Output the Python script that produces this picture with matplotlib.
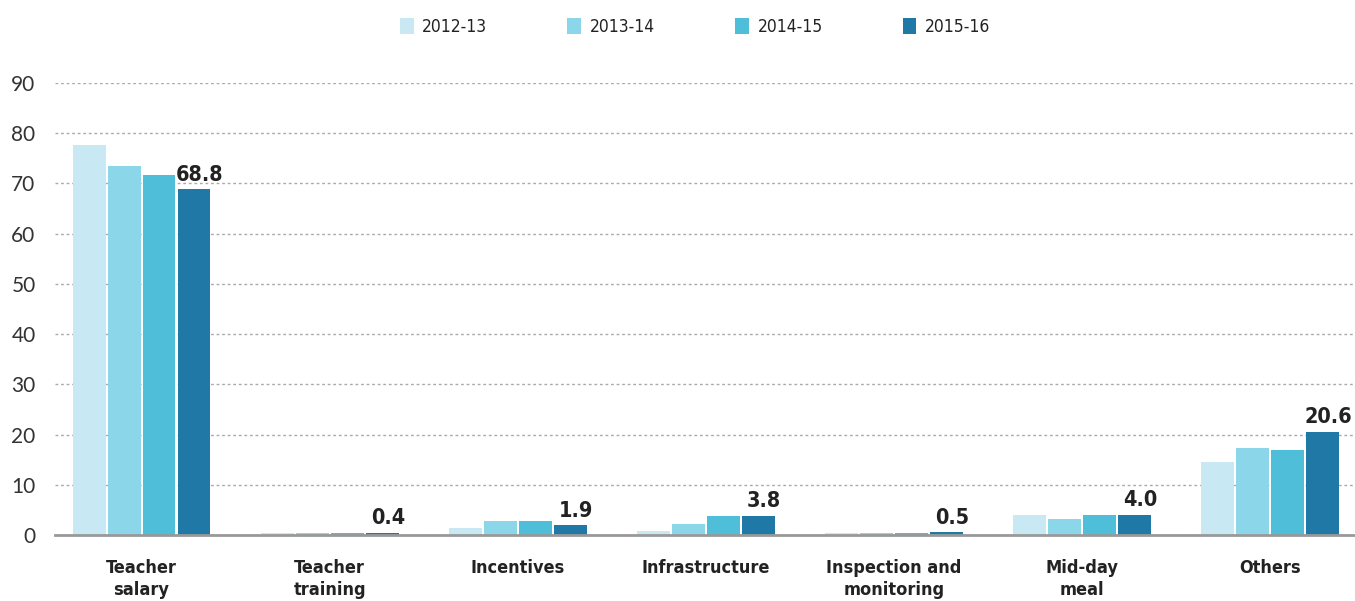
import numpy as np
import matplotlib
matplotlib.use("Agg")
import matplotlib.pyplot as plt
from matplotlib.patches import Patch

plt.rcParams['font.family'] = ['DejaVu Sans']
plt.rcParams['font.stretch'] = 'condensed'

categories = ["Teacher\nsalary", "Teacher\ntraining", "Incentives", "Infrastructure",
              "Inspection and\nmonitoring", "Mid-day\nmeal", "Others"]
years = ["2012-13", "2013-14", "2014-15", "2015-16"]
v_2012 = [77.6, 0.3, 1.3, 0.7, 0.3, 4.0, 14.5]
v_2013 = [73.4, 0.35, 2.8, 2.2, 0.4, 3.2, 17.4]
v_2014 = [71.6, 0.35, 2.8, 3.7, 0.4, 4.0, 17.0]
v_2015 = [68.8, 0.4, 1.9, 3.8, 0.5, 4.0, 20.6]
series = [v_2012, v_2013, v_2014, v_2015]
colors = ["#c8e8f3", "#8cd6ea", "#4fbfd9", "#1f78a6"]
yticks = [0, 10, 20, 30, 40, 50, 60, 70, 80, 90]

fig = plt.figure(figsize=(13.55, 6.01), dpi=100)
ax = fig.add_axes([55 / 1355, 66 / 601, 1300 / 1355, 452 / 601])

x = np.arange(len(categories))
slot = 0.186
width = 0.175
for i, vals in enumerate(series):
    pos = x + (i - 1.5) * slot
    bars = ax.bar(pos, vals, width=width, color=colors[i], zorder=3)
    if i == 3:
        for p, v in zip(pos, vals):
            ax.text(p + 0.03, v + 0.9, f"{v:.1f}", ha="center", va="bottom",
                    fontsize=15.5, fontweight="bold", color="#222222", clip_on=False)

ax.set_xlim(-0.46, 6.45)
ax.set_ylim(0, 90)
ax.set_yticks(yticks)
ax.set_yticklabels([str(t) for t in yticks], fontsize=15, color="#333333",
                   family=['Lato', 'DejaVu Sans'], fontstretch='normal')
ax.tick_params(axis="y", length=0, pad=14)
ax.set_xticks(x)
ax.set_xticklabels(categories, fontsize=13, fontweight="bold", color="#222222",
                   linespacing=1.3)
ax.tick_params(axis="x", length=0, pad=17)

ax.grid(axis="y", color="#aaaaaa", linestyle=(0, (2, 2)), linewidth=1, zorder=0)
for s in ["top", "right", "left"]:
    ax.spines[s].set_visible(False)
ax.spines["bottom"].set_color("#999999")
ax.spines["bottom"].set_linewidth(2)
ax.spines["bottom"].set_zorder(4)

handles = [Patch(facecolor=c, edgecolor="none") for c in colors]
fig.legend(handles, years, loc="center", bbox_to_anchor=(0.513, 0.955), ncol=4,
           frameon=False, fontsize=12.5, handlelength=0.8, handleheight=1.0,
           handletextpad=0.5, columnspacing=4.6, labelcolor="#222222")

fig.savefig("out.png", dpi=100)
